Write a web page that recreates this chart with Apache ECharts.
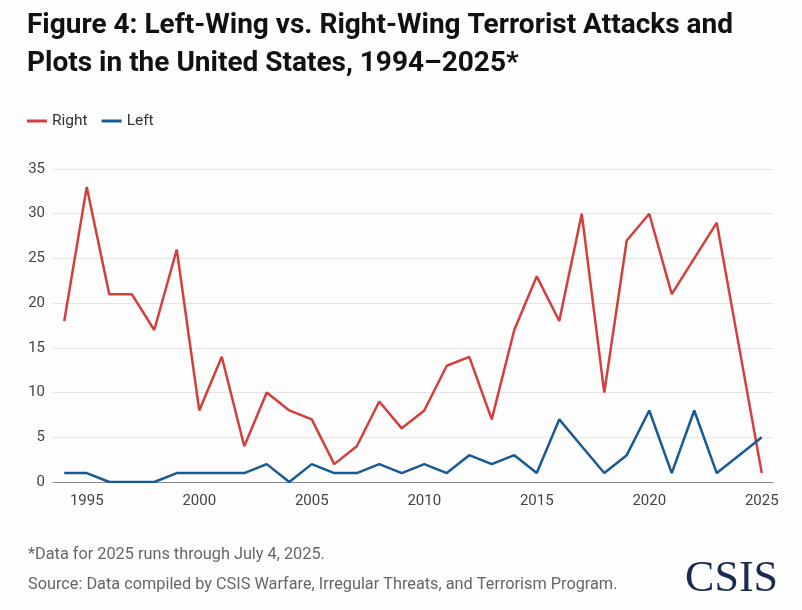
<!DOCTYPE html>
<html>
<head>
<meta charset="utf-8">
<script src="https://cdn.jsdelivr.net/npm/echarts@6/dist/echarts.min.js"></script>
<style>
  html, body { margin: 0; padding: 0; background: #fdfdfd; }
  #chart { width: 802px; height: 610px; }
</style>
</head>
<body>
<div id="chart"></div>
<script>
// years 1994 - 2025
const years = [];
for (let y = 1994; y <= 2025; y++) years.push(String(y));

// right-wing attacks and plots
const rightData = [18, 33, 21, 21, 17, 26, 8, 14, 4, 10, 8, 7, 2, 4, 9, 6,
  8, 13, 14, 7, 17, 23, 18, 30, 10, 27, 30, 21, 25, 29, 15, 1];
// left-wing attacks and plots
const leftData = [1, 1, 0, 0, 0, 1, 1, 1, 1, 2, 0, 2, 1, 1, 2, 1,
  2, 1, 3, 2, 3, 1, 7, 4, 1, 3, 8, 1, 8, 1, 3, 5];

const titleLines = 'Figure 4: Left-Wing vs. Right-Wing Terrorist Attacks and\nPlots in the United States, 1994\u20132025*';
const noteText = '*Data for 2025 runs through July 4, 2025.';
const sourceText = 'Source: Data compiled by CSIS Warfare, Irregular Threats, and Terrorism Program.';

const RED = '#d23f3d';
const BLUE = '#175a96';
const FONT = 'Roboto, "Noto Sans", sans-serif';

const chart = echarts.init(document.getElementById('chart'));

// only every 5th year gets a label / tick
const everyFive = function (index, value) {
  return Number(value) % 5 === 0;
};

chart.setOption({
  backgroundColor: '#fdfdfd',
  animation: false,
  textStyle: { fontFamily: FONT },
  title: {
    text: titleLines,
    left: 22,
    top: 2,
    textStyle: {
      fontFamily: FONT,
      fontWeight: 'bold',
      fontSize: 28,
      lineHeight: 38,
      color: '#111'
    }
  },
  legend: {
    left: 22,
    top: 108,
    icon: 'rect',
    itemWidth: 20,
    itemHeight: 3,
    itemGap: 14,
    textStyle: { fontSize: 15.5, color: '#333', fontFamily: FONT },
    data: ['Right', 'Left']
  },
  grid: {
    left: 53,
    right: 29,
    top: 169,
    bottom: 128
  },
  xAxis: {
    type: 'category',
    data: years,
    boundaryGap: true,
    axisLine: { lineStyle: { color: '#8a8a8a', width: 1 } },
    axisTick: {
      alignWithLabel: true,
      interval: everyFive,
      length: 5,
      lineStyle: { color: '#8a8a8a' }
    },
    axisLabel: {
      interval: everyFive,
      margin: 12,
      fontSize: 15,
      color: '#444'
    }
  },
  yAxis: {
    type: 'value',
    min: 0,
    max: 35,
    interval: 5,
    axisLine: { show: false },
    axisTick: { show: false },
    axisLabel: { fontSize: 15, color: '#444', margin: 8 },
    splitLine: { lineStyle: { color: '#e4e4e4', width: 1 } }
  },
  series: [
    {
      name: 'Right',
      type: 'line',
      data: rightData,
      showSymbol: false,
      color: RED,
      lineStyle: { width: 2.5, color: RED }
    },
    {
      name: 'Left',
      type: 'line',
      data: leftData,
      showSymbol: false,
      color: BLUE,
      lineStyle: { width: 2.5, color: BLUE }
    }
  ],
  graphic: [
    {
      type: 'text',
      left: 28,
      top: 547,
      style: { text: noteText, fontSize: 16.3, fill: '#666', fontFamily: FONT }
    },
    {
      type: 'text',
      left: 28,
      top: 577,
      style: { text: sourceText, fontSize: 16.3, fill: '#666', fontFamily: FONT }
    },
    {
      type: 'text',
      right: 24,
      top: 557,
      style: {
        text: 'CSIS',
        fontSize: 44,
        fill: '#1b2a52',
        fontFamily: '"Liberation Serif", "DejaVu Serif", serif'
      }
    }
  ]
});
</script>
</body>
</html>
